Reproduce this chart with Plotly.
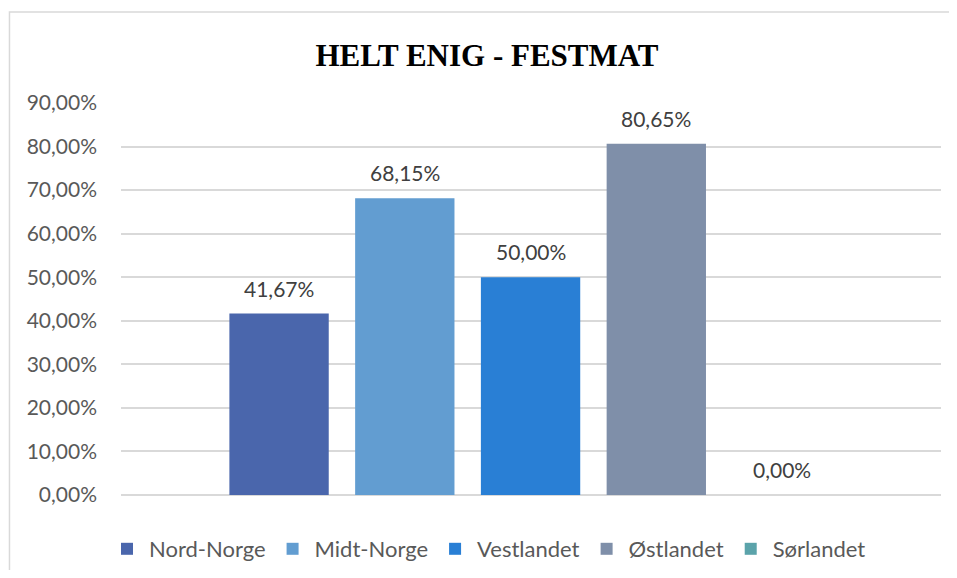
import plotly.graph_objects as go

categories = ["Nord-Norge", "Midt-Norge", "Vestlandet", "Østlandet", "Sørlandet"]
values = [41.67, 68.15, 50.00, 80.65, 0.00]
colors = ["#4A66AC", "#629DD1", "#297FD5", "#7F8FA9", "#5BA3AA"]
y_ticks = [0, 10, 20, 30, 40, 50, 60, 70, 80, 90]
y_tick_labels = ["0,00%", "10,00%", "20,00%", "30,00%", "40,00%",
                 "50,00%", "60,00%", "70,00%", "80,00%", "90,00%"]
title_text = "HELT ENIG - FESTMAT"

FONT = "Lato"
W, H = 941, 562  # page body has an 8px margin on every side

fig = go.Figure()
for i, (name, v, c) in enumerate(zip(categories, values, colors)):
    fig.add_trace(go.Bar(
        x=[i], y=[v], name=name, width=0.79,
        marker=dict(color=c, line=dict(width=0)),
        hoverinfo="skip",
    ))
    fig.add_annotation(
        x=i, y=v, xref="x", yref="y",
        text=f"{v:.2f}".replace(".", ",") + "%",
        showarrow=False, yanchor="bottom", yshift=11,
        font=dict(family=FONT, size=21, color="#404040"),
    )

fig.add_shape(type="rect", xref="paper", yref="paper",
              x0=-0.136, x1=1.2, y0=-0.3, y1=1.232,
              line=dict(color="#D9D9D9", width=1.5), fillcolor="rgba(0,0,0,0)",
              layer="below")

fig.update_layout(
    width=W, height=H,
    margin=dict(l=113, r=8, t=95, b=75),
    paper_bgcolor="white", plot_bgcolor="white",
    separators=",.",
    barmode="overlay",
    showlegend=True,
    title=dict(text=f"<b>{title_text}</b>", x=479 / W, xref="container", xanchor="center",
               y=1 - 47 / H, yref="container", yanchor="middle",
               font=dict(family="Liberation Serif", size=31, color="black")),
    legend=dict(orientation="h", xref="container", yref="container",
                x=97 / W, xanchor="left", y=1 - 541 / H, yanchor="middle",
                itemwidth=34,
                font=dict(family=FONT, size=22, color="#595959"),
                bgcolor="rgba(0,0,0,0)", traceorder="normal"),
    xaxis=dict(range=[-1.257, 5.264], showticklabels=False, showgrid=False,
               zeroline=False, showline=False, ticks=""),
    yaxis=dict(range=[0, 90], tickmode="array", tickvals=y_ticks, ticktext=y_tick_labels,
               showgrid=True, gridcolor="#D9D9D9", gridwidth=1.5,
               zeroline=True, zerolinecolor="#D9D9D9", zerolinewidth=1.5,
               showline=False, ticks="", ticklabelstandoff=23,
               tickfont=dict(family=FONT, size=21, color="#595959")),
)

fig.write_html("out.html")
